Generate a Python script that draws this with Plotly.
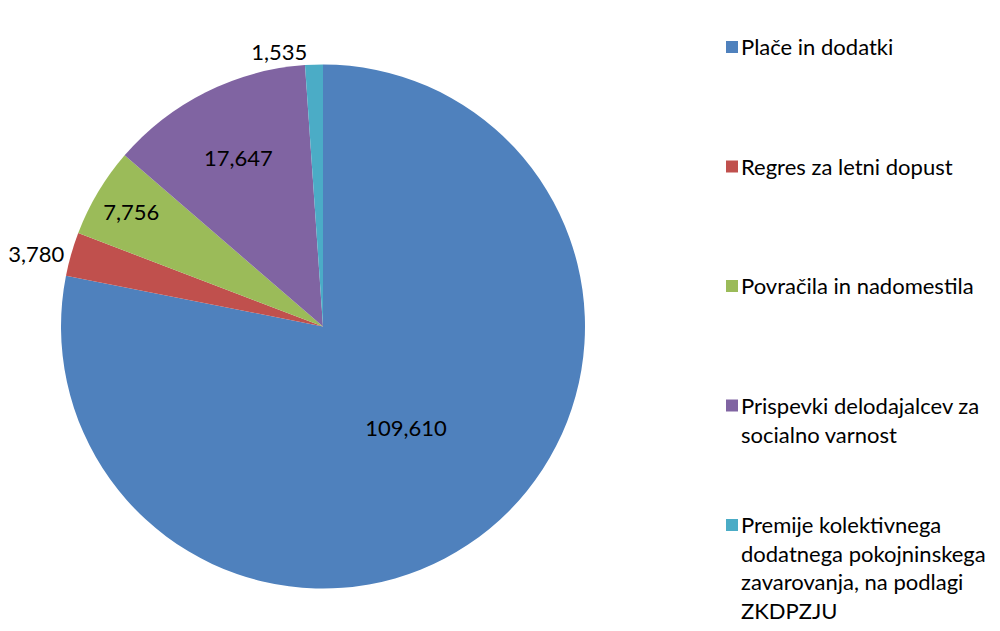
import plotly.graph_objects as go

labels = [
    "Plače in dodatki",
    "Regres za letni dopust",
    "Povračila in nadomestila",
    "Prispevki delodajalcev za<br>socialno varnost",
    "Premije kolektivnega<br>dodatnega pokojninskega<br>zavarovanja, na podlagi<br>ZKDPZJU",
]
values = [109610, 3780, 7756, 17647, 1535]
colors = ["#4F81BD", "#C0504D", "#9BBB59", "#8064A2", "#4BACC6"]
text_pos = ["inside", "outside", "inside", "inside", "outside"]

font_name = "Lato"

# the page puts an 8px body margin around the figure, so size it to fit the window
W, H, OFF = 992, 623, 8


def px(x):
    return (x - OFF) / W


def py(y):
    return 1 - (y - OFF) / H


fig = go.Figure()

cx, cy, r = 323, 326.5, 262
fig.add_trace(go.Pie(
    labels=[l.replace("<br>", " ") for l in labels],
    values=values,
    marker=dict(colors=colors, line=dict(width=0)),
    sort=False,
    direction="clockwise",
    rotation=0,
    texttemplate="%{value:,}",
    textposition=text_pos,
    insidetextorientation="horizontal",
    textfont=dict(family=font_name, size=22, color="#000000"),
    domain=dict(x=[px(cx - r), px(cx + r)], y=[py(cy + r), py(cy - r)]),
    showlegend=False,
))

# legend drawn by hand so the entries can be spaced like the original
top = 47
step = 119.5
for i, (lab, col) in enumerate(zip(labels, colors)):
    yc = top + step * i
    fig.add_shape(type="rect", xref="paper", yref="paper",
                  x0=px(726), x1=px(738),
                  y0=py(yc + 6), y1=py(yc - 6),
                  fillcolor=col, line=dict(width=0))
    fig.add_annotation(x=px(739), y=py(yc - 16), xref="paper", yref="paper",
                       text=lab, showarrow=False, xanchor="left", yanchor="top",
                       align="left", font=dict(family=font_name, size=22, color="#000000"))

fig.update_layout(
    width=W, height=H,
    margin=dict(l=0, r=0, t=0, b=0, autoexpand=False),
    paper_bgcolor="white",
    plot_bgcolor="white",
)

fig.write_html("out.html")
